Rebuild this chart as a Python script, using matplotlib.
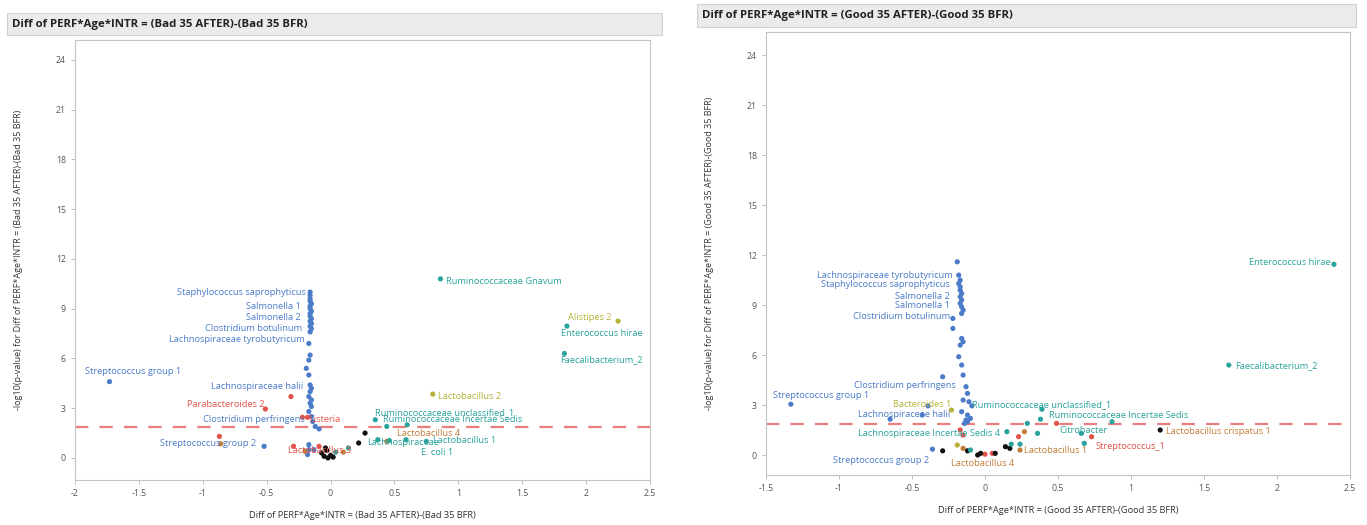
import matplotlib
matplotlib.use('Agg')
import matplotlib.pyplot as plt
from matplotlib.patches import Rectangle

plt.rcParams['font.family'] = ['Open Sans', 'DejaVu Sans']

# ---------------- data: Bad 35 (left panel) ----------------
bad_x = [-0.16, -0.16, -0.16, -0.16, -0.15, -0.16, -0.16, -0.15, -0.16, -0.16, -0.15, -0.16, -0.15,
         -0.16, -0.15, -0.16, -0.17, -0.16, -0.17, -0.19, -0.17, -0.16, -0.15, -0.16, -0.17, -0.15,
         -0.16, -0.15, -0.17, -0.15, -0.14, -0.09, -0.12, -0.17, -0.17, -0.13, -0.18,
         -1.73, -0.52,
         -0.31, -0.51, -0.22, -0.18, -0.87, -0.29, -0.09,
         -0.86, -0.2, 0.1, 0.44,
         -0.07, -0.05, -0.02, 0.0, -0.03, 0.02, 0.22, 0.27, -0.04,
         0.04, 0.14, 0.35, 0.37, 0.46, 0.59, 0.75, 0.44, 0.6,
         0.86, 1.85, 1.83,
         2.25, 0.8]
bad_y = [10.0, 9.8, 9.6, 9.45, 9.3, 9.15, 9.0, 8.85, 8.7, 8.55, 8.4, 8.25, 8.1,
         7.95, 7.8, 7.6, 6.9, 6.2, 5.9, 5.4, 5.0, 4.4, 4.2, 4.0, 3.7, 3.5,
         3.3, 3.1, 2.8, 2.5, 2.2, 1.75, 1.9, 0.8, 0.5, 0.5, 0.2,
         4.6, 0.7,
         3.7, 2.95, 2.45, 2.45, 1.3, 0.7, 0.7,
         0.85, 0.4, 0.35, 1.0,
         0.3, 0.1, 0.0, 0.15, 0.45, 0.05, 0.9, 1.5, 0.6,
         0.35, 0.6, 2.3, 1.1, 1.05, 1.1, 1.0, 1.9, 2.0,
         10.8, 7.95, 6.3,
         8.25, 3.85]
bad_c = ['blue'] * 37 + ['blue'] * 2 + ['red'] * 7 + ['brown'] * 4 + ['black'] * 9 + \
        ['teal'] * 9 + ['teal'] * 3 + ['olive'] * 2

bad_lab = ['Staphylococcus saprophyticus', 'Salmonella 1', 'Salmonella 2', 'Clostridium botulinum',
           'Lachnospiraceae tyrobutyricum', 'Streptococcus group 1', 'Lachnospiraceae halii',
           'Parabacteroides 2', 'Listeria', 'Clostridium perfringens', 'Streptococcus group 2',
           'Lactobacillus 3', 'Ruminococcaceae unclassified_1', 'Ruminococcaceae Incertae Sedis',
           'Lachnospiraceae', 'Lactobacillus 4', 'Lactobacillus 1', 'E. coli 1',
           'Ruminococcaceae Gnavum', 'Lactobacillus 2', 'Alistipes 2', 'Enterococcus hirae',
           'Faecalibacterium_2']
bad_lab_x = [-0.19, -0.23, -0.23, -0.22, -0.2, -1.92, -0.21, -0.52, -0.17, -0.2, -0.58,
             -0.33, 0.35, 0.41, 0.29, 0.52, 0.8, 0.71,
             0.9, 0.84, 2.2, 1.8, 1.8]
bad_lab_y = [9.95, 9.15, 8.45, 7.8, 7.15, 5.2, 4.3, 3.2, 2.3, 2.3, 0.9,
             0.42, 2.75, 2.3, 0.95, 1.45, 1.05, 0.35,
             10.65, 3.7, 8.45, 7.5, 5.9]
bad_lab_ha = ['right'] * 5 + ['left'] + ['right'] * 2 + ['left'] + ['right'] * 2 + \
             ['left'] * 5 + ['left'] + ['left'] * 3 + ['right'] + ['left'] * 2
bad_lab_c = ['blue'] * 7 + ['red', 'red', 'blue', 'blue', 'red', 'teal', 'teal',
             'teal', 'brown', 'teal', 'teal', 'teal', 'olive', 'olive', 'teal', 'teal']

# ---------------- data: Good 35 (right panel) ----------------
good_x = [-0.19, -0.18, -0.17, -0.18, -0.17, -0.17, -0.16, -0.17, -0.16, -0.17, -0.16, -0.15,
          -0.16, -0.22, -0.22, -0.16, -0.15, -0.17, -0.18, -0.16, -0.15, -0.29, -0.13, -0.12,
          -0.11, -0.15, -0.09, -0.12, -0.13, -0.14, -0.39, -0.43, -0.65, -1.33, -0.36,
          -0.12, -0.1, -0.16,
          -0.23, -0.19,
          -0.17, 0.0, 0.05, 0.23, 0.49, 0.73, -0.15,
          -0.15, 0.24, 0.27, 1.2,
          -0.29, -0.12, -0.03, 0.07, 0.14, 0.17, -0.05,
          -0.1, 0.18, 0.24, 0.15, 0.36, 0.29, 0.38, 0.39, 0.66, 0.68, 0.87, 1.67, 2.39]
good_y = [11.6, 10.8, 10.5, 10.3, 10.1, 9.9, 9.7, 9.5, 9.3, 9.1, 8.9, 8.7,
          8.5, 8.2, 7.6, 7.0, 6.8, 6.6, 5.9, 5.4, 4.8, 4.7, 4.1, 3.7,
          3.2, 3.3, 2.95, 2.4, 2.1, 1.9, 2.95, 2.4, 2.15, 3.05, 0.35,
          2.0, 2.2, 2.6,
          2.7, 0.6,
          1.5, 0.05, 0.1, 1.1, 1.9, 1.1, 1.2,
          0.4, 0.3, 1.4, 1.5,
          0.25, 0.25, 0.1, 0.1, 0.5, 0.4, 0.0,
          0.3, 0.65, 0.65, 1.4, 1.3, 1.9, 2.15, 2.75, 1.3, 0.7, 2.0, 5.4, 11.45]
good_c = ['blue'] * 38 + ['olive'] * 2 + ['red'] * 7 + ['brown'] * 3 + ['black'] + \
         ['black'] * 7 + ['teal'] * 13

good_lab = ['Lachnospiraceae tyrobutyricum', 'Staphylococcus saprophyticus', 'Salmonella 2',
            'Salmonella 1', 'Clostridium botulinum', 'Clostridium perfringens',
            'Streptococcus group 1', 'Bacteroides 1', 'Lachnospiraceae halii',
            'Ruminococcaceae unclassified_1', 'Ruminococcaceae Incertae Sedis',
            'Lachnospiraceae Incertae Sedis 4', 'Citrobacter', 'Streptococcus_1',
            'Lactobacillus 1', 'Lactobacillus 4', 'Streptococcus group 2',
            'Lactobacillus crispatus 1', 'Enterococcus hirae', 'Faecalibacterium_2']
good_lab_x = [-0.22, -0.24, -0.24, -0.24, -0.24, -0.2, -1.45, -0.63, -0.24,
              -0.09, 0.44, -0.87, 0.51, 0.76, 0.27, -0.23, -1.04, 1.24, 2.37, 1.71]
good_lab_y = [10.8, 10.25, 9.5, 8.95, 8.3, 4.15, 3.55, 3.05, 2.45,
              3.0, 2.4, 1.3, 1.45, 0.5, 0.25, -0.5, -0.3, 1.4, 11.55, 5.35]
good_lab_ha = ['right'] * 6 + ['left', 'left', 'right'] + ['left'] * 9 + ['right', 'left']
good_lab_c = ['blue'] * 7 + ['olive', 'blue', 'teal', 'teal', 'teal', 'teal', 'red',
              'brown', 'brown', 'blue', 'brown', 'teal', 'teal']

colors = {'blue': '#4b7bc9', 'teal': '#2aa39c', 'red': '#e2544b', 'olive': '#b6b23a',
          'brown': '#c47d38', 'black': '#111111'}
cut = 1.87


def draw_panel(ax, xs, ys, cs, labs, lx, ly, lha, lc, xlim, ylim, xticks, grp):
    ax.axhline(cut, color='#ea7d7d', lw=1.6, dashes=(6, 5), zorder=1)
    ax.scatter(xs, ys, s=14, c=[colors[c] for c in cs], linewidths=0, zorder=3)
    for t, x, y, h, c in zip(labs, lx, ly, lha, lc):
        ax.text(x, y, t, ha=h, va='center', fontsize=6.7, color=colors[c], zorder=4)
    ax.set_xlim(*xlim)
    ax.set_ylim(*ylim)
    ax.set_xticks(xticks)
    ax.set_xticklabels(['%g' % v for v in xticks])
    ax.set_yticks(range(0, 25, 3))
    for s in ax.spines.values():
        s.set_color('#c4c4c4')
    ax.tick_params(colors='#b0b0b0', labelcolor='#555555', labelsize=6.3, length=3, width=0.6)
    name = 'Diff of PERF*Age*INTR = (%s 35 AFTER)-(%s 35 BFR)' % (grp, grp)
    ax.set_xlabel(name, fontsize=6.7, color='#333333', labelpad=9)
    ax.set_ylabel('-log10(p-value) for ' + name, fontsize=6.5, color='#333333', labelpad=24)


fig = plt.figure(figsize=(13.67, 5.25), dpi=100)
W, H = 1367, 525

ax1 = fig.add_axes([75 / W, 1 - 480 / H, 575 / W, 440 / H])
draw_panel(ax1, bad_x, bad_y, bad_c, bad_lab, bad_lab_x, bad_lab_y, bad_lab_ha, bad_lab_c,
           (-2, 2.5), (-1.33, 25.2), [-2, -1.5, -1, -0.5, 0, 0.5, 1, 1.5, 2, 2.5], 'Bad')

ax2 = fig.add_axes([766 / W, 1 - 475 / H, 584 / W, 443 / H])
draw_panel(ax2, good_x, good_y, good_c, good_lab, good_lab_x, good_lab_y, good_lab_ha, good_lab_c,
           (-1.5, 2.5), (-1.2, 25.4), [-1.5, -1, -0.5, 0, 0.5, 1, 1.5, 2, 2.5], 'Good')

# title bars
for (x0, y0, x1, y1, grp) in [(7, 13, 662, 35, 'Bad'), (697, 4, 1356, 27, 'Good')]:
    fig.patches.append(Rectangle((x0 / W, 1 - y1 / H), (x1 - x0) / W, (y1 - y0) / H,
                                 transform=fig.transFigure, facecolor='#ebebeb',
                                 edgecolor='#d2d2d2', lw=0.8))
    fig.text((x0 + 5) / W, 1 - (y0 + y1) / 2 / H,
             'Diff of PERF*Age*INTR = (%s 35 AFTER)-(%s 35 BFR)' % (grp, grp),
             fontsize=8.2, fontweight='bold', color='#222222', va='center', ha='left')

fig.savefig('out.png', dpi=100)
